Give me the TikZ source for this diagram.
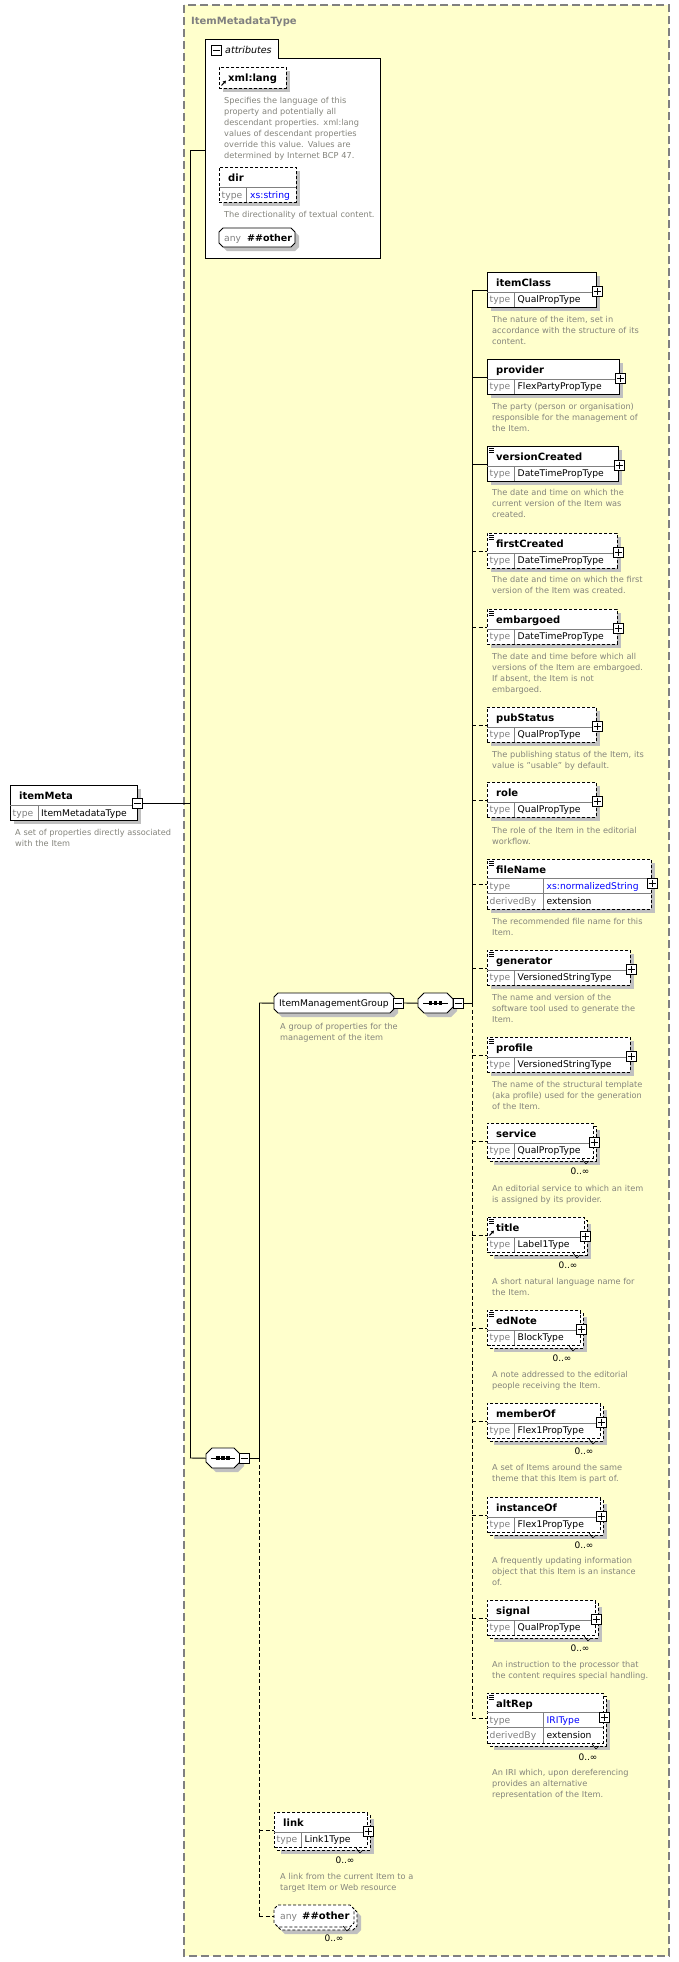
\documentclass[tikz,border=0pt]{standalone}
\usepackage{fontspec}
\setmainfont{DejaVu Sans}
\usetikzlibrary{arrows.meta}
\definecolor{ybg}{RGB}{255,255,204}
\definecolor{ybord}{RGB}{128,128,128}
\definecolor{shadowc}{RGB}{192,192,192}
\definecolor{descc}{RGB}{132,132,124}
\definecolor{divc}{RGB}{128,128,128}
\definecolor{bluet}{RGB}{0,0,255}
\tikzset{
 ln/.style={draw=black,line width=0.9pt},
 optd/.style={dash pattern=on 3pt off 2pt},
 reqd/.style={solid},
 cdash/.style={dash pattern=on 4pt off 2.5pt},
 elbox/.style={draw=black,fill=white,line width=0.9pt,inner sep=0pt,shape=rectangle},
 elframe/.style={draw=black,fill=white,line width=0.9pt},
 divl/.style={draw=divc,line width=0.8pt},
 shad/.style={fill=shadowc},
 occnotch/.style={draw=black,line width=0.6pt},
 pmbox/.style={draw=black,fill=white,line width=0.8pt,minimum size=10pt,inner sep=0pt,shape=rectangle},
 namet/.style={font=\fontsize{10}{12}\selectfont\bfseries,inner sep=0pt,anchor=base west},
 typel/.style={font=\fontsize{9.2}{11}\selectfont,text=divc,inner sep=0pt,anchor=base west},
 typet/.style={font=\fontsize{9.2}{11}\selectfont,inner sep=0pt,anchor=base west},
 desct/.style={font=\fontsize{8.2}{11}\selectfont,text=descc,text width=200pt,align=left,inner sep=0pt,anchor=base west},
 occt/.style={font=\fontsize{9}{11}\selectfont,inner sep=0pt,anchor=base},
 hid/.style={inner sep=0pt,shape=rectangle,anchor=north west},
}
\newcommand\plusat[3]{\node[pmbox] (#1) at (#2,#3) {};
  \draw[line width=0.8pt] (#1.center) +(-3.5,0) -- +(3.5,0) (#1.center) +(0,-3.5) -- +(0,3.5);}
\newcommand\minusat[3]{\node[pmbox] (#1) at (#2,#3) {};
  \draw[line width=0.8pt] (#1.center) +(-3.5,0) -- +(3.5,0);}
\newcommand\docicon[2]{\draw[line width=0.6pt] (#1+2,#2+2.5) -- ++(5,0) (#1+2,#2+4.5) -- ++(5,0) (#1+2,#2+6.5) -- ++(5,0);}
\newcommand\reficon[2]{\draw[line width=1pt,-{Triangle[length=3pt,width=3.2pt]}] (#1+2.5,#2+18.5) -- (#1+7,#2+13.5);}
\newcommand\octa[6]{\path[#6] (#1+#5,#2) -- (#3-#5,#2) -- (#3,#2+#5) -- (#3,#4-#5) -- (#3-#5,#4) -- (#1+#5,#4) -- (#1,#4-#5) -- (#1,#2+#5) -- cycle;}
\newcommand\desc[4]{\node[desct] (#1) at (#2,#3+3) {#4};}
\newcommand\occ[3]{\node[occt] (#1) at (#2,#3+3.5) {0..∞};}
% element: id, left, top, right, dash, name, type, multi, icon
\newcommand\el[9]{%
  \ifnum#8=1\relax
    \fill[shad] (#2+7,#3+7) rectangle (#4+7,#3+42);
    \draw[elframe,#5] (#2+3,#3+3) rectangle (#4+3,#3+38);
  \else
    \fill[shad] (#2+4,#3+4) rectangle (#4+4,#3+39);
  \fi
  \node[elbox,#5,minimum width=#4-#2,minimum height=35,anchor=north west] (#1) at (#2,#3) {};
  \ifnum#8=1\relax \draw[occnotch] (#4-11,#3+36) -- (#4-7,#3+41) -- (#4-4,#3+38);\fi
  \draw[divl] (#2,#3+20) -- (#4,#3+20) (#2+27,#3+20) -- (#2+27,#3+35);
  \node[namet] (#1n) at (#2+9,#3+14) {#6};
  \node[typel] (#1tl) at (#2+2.5,#3+30.5) {type};
  \node[typet] (#1t) at (#2+30.5,#3+30.5) {#7};
  \plusat{#1p}{#4+1}{#3+19}%
  \ifnum#9>0\relax \docicon{#2}{#3}\fi
  \ifnum#9>1\relax \reficon{#2}{#3}\fi
}
% derived element: id, left, top, right, name, type, multi
\newcommand\elx[7]{%
  \ifnum#7=1\relax
    \fill[shad] (#2+7,#3+7) rectangle (#4+7,#3+57);
    \draw[elframe,optd] (#2+3,#3+3) rectangle (#4+3,#3+53);
  \else
    \fill[shad] (#2+4,#3+4) rectangle (#4+4,#3+54);
  \fi
  \node[elbox,optd,minimum width=#4-#2,minimum height=50,anchor=north west] (#1) at (#2,#3) {};
  \ifnum#7=1\relax \draw[occnotch] (#4-11,#3+51) -- (#4-7,#3+56) -- (#4-4,#3+53);\fi
  \draw[divl] (#2,#3+19) -- (#4,#3+19) (#2,#3+34) -- (#4,#3+34) (#2+56,#3+19) -- (#2+56,#3+50);
  \node[namet] (#1n) at (#2+9,#3+14) {#5};
  \node[typel] (#1tl) at (#2+2.5,#3+30) {type};
  \node[typet,text=bluet] (#1t) at (#2+59.5,#3+30) {#6};
  \node[typel] (#1dl) at (#2+2.5,#3+45) {derivedBy};
  \node[typet] (#1d) at (#2+59.5,#3+45) {extension};
  \plusat{#1p}{#4+1}{#3+24.5}%
  \docicon{#2}{#3}%
}
\begin{document}
\begin{tikzpicture}[x=1pt,y=-1pt]
\useasboundingbox (0,0) rectangle (679,1962);
\fill[white] (0,0) rectangle (679,1962);
% type frame
\path[fill=ybg,draw=ybord,line width=1.3pt,dash pattern=on 8pt off 4pt] (184,5) rectangle (669,1956);
\node[namet,text=ybord] (ttl) at (191,24) {ItemMetadataType};

% itemMeta
\fill[shad] (14,789) rectangle (141,824);
\node[elbox,minimum width=127,minimum height=35,anchor=north west] (itemMeta) at (10,785) {};
\draw[divl] (10,805) -- (137,805) (38,805) -- (38,820);
\node[namet] (itemMetan) at (19,799) {itemMeta};
\node[typel] (itemMetatl) at (12.5,816) {type};
\node[typet] (itemMetat) at (41,816) {ItemMetadataType};
\minusat{imm}{137.5}{803}
\desc{itemMetad}{15}{832}{A set of properties directly associated\\with the Item}

% attributes
\path[fill=white,draw=black,line width=0.9pt] (278,58) -- (380,58) -- (380,258) -- (205,258) -- (205,39) -- (278,39) -- cycle;
\node[hid,minimum width=175,minimum height=200] (attrbox) at (205,58) {};
\minusat{attrm}{216}{50.5}
\node[namet,font=\fontsize{9.5}{11}\selectfont\itshape] (attrt) at (225,53.5) {attributes};

\fill[shad] (223,71) rectangle (290,92);
\node[elbox,optd,minimum width=67,minimum height=21,anchor=north west] (xmllang) at (219,67) {};
\node[namet] (xmllangn) at (228,81) {xml:lang};
\reficon{219}{67}
\desc{xmllangd}{224}{100}{Specifies the language of this\\property and potentially all\\descendant properties. xml:lang\\values of descendant properties\\override this value. Values are\\determined by Internet BCP 47.}

\fill[shad] (223,171) rectangle (300,206);
\node[elbox,optd,minimum width=77,minimum height=35,anchor=north west] (dir) at (219,167) {};
\draw[divl] (219,187) -- (296,187) (246,187) -- (246,202);
\node[namet] (dirn) at (228,181.5) {dir};
\node[typel] (dirtl) at (221.5,198.5) {type};
\node[typet,text=bluet] (dirt) at (250,198.5) {xs:string};
\desc{dird}{224}{214}{The directionality of textual content.}

\octa{223}{232}{299}{251}{4}{shad}
\octa{219}{228}{295}{247}{4}{fill=white,draw=black,line width=0.9pt}
\node[hid,minimum width=76,minimum height=19] (anyattr) at (219,228) {};
\node[typel] (anyattrl) at (224,241.5) {any};
\node[namet,font=\fontsize{9.5}{11}\selectfont\bfseries] (anyattrn) at (247,241.5) {\#\#other};

% outer sequence
\octa{210}{1452}{244}{1472}{6}{shad}
\octa{206}{1448}{240}{1468}{6}{fill=white,draw=black,line width=0.9pt}
\node[hid,minimum width=34,minimum height=20] (seq1) at (206,1448) {};
\draw[line width=0.9pt] (211,1458) -- (235,1458);
\foreach \cx in {218,223,228} \fill (\cx-1.6,1456.4) rectangle (\cx+1.6,1459.6);
\minusat{seq1m}{244}{1458}

% ItemManagementGroup
\octa{278}{997}{398}{1017}{4}{shad}
\octa{274}{993}{394}{1013}{4}{fill=white,draw=black,line width=0.9pt}
\node[hid,minimum width=120,minimum height=20] (img) at (274,993) {};
\node[typet] (imgt) at (279,1006.5) {ItemManagementGroup};
\minusat{imgm}{398.5}{1003}
\desc{imgd}{280}{1026}{A group of properties for the\\management of the item}

% inner sequence
\octa{422}{997}{457}{1017}{6}{shad}
\octa{418}{993}{453}{1013}{6}{fill=white,draw=black,line width=0.9pt}
\node[hid,minimum width=35,minimum height=20] (seq2) at (418,993) {};
\draw[line width=0.9pt] (423,1003) -- (448,1003);
\foreach \cx in {430.5,435.5,440.5} \fill (\cx-1.6,1001.4) rectangle (\cx+1.6,1004.6);
\minusat{seq2m}{458}{1003}

% inner elements
\el{itemClass}{487}{272}{596}{reqd}{itemClass}{QualPropType}{0}{0}
\desc{itemClassd}{492}{319}{The nature of the item, set in\\accordance with the structure of its\\content.}
\el{provider}{487}{359}{619}{reqd}{provider}{FlexPartyPropType}{0}{0}
\desc{providerd}{492}{406}{The party (person or organisation)\\responsible for the management of\\the Item.}
\el{versionCreated}{487}{446}{618}{reqd}{versionCreated}{DateTimePropType}{0}{1}
\desc{versionCreatedd}{492}{492}{The date and time on which the\\current version of the Item was\\created.}
\el{firstCreated}{487}{533}{617}{optd}{firstCreated}{DateTimePropType}{0}{1}
\desc{firstCreatedd}{492}{579}{The date and time on which the first\\version of the Item was created.}
\el{embargoed}{487}{609}{617}{optd}{embargoed}{DateTimePropType}{0}{1}
\desc{embargoedd}{492}{656}{The date and time before which all\\versions of the Item are embargoed.\\If absent, the Item is not\\embargoed.}
\el{pubStatus}{487}{707}{596}{optd}{pubStatus}{QualPropType}{0}{0}
\desc{pubStatusd}{492}{754}{The publishing status of the Item, its\\value is "usable" by default.}
\el{role}{487}{782}{596}{optd}{role}{QualPropType}{0}{0}
\desc{roled}{492}{830}{The role of the Item in the editorial\\workflow.}
\elx{fileName}{487}{859}{651}{fileName}{xs:normalizedString}{0}
\desc{fileNamed}{492}{921}{The recommended file name for this\\Item.}
\el{generator}{487}{950}{630}{optd}{generator}{VersionedStringType}{0}{1}
\desc{generatord}{492}{997}{The name and version of the\\software tool used to generate the\\Item.}
\el{profile}{487}{1037}{630}{optd}{profile}{VersionedStringType}{0}{1}
\desc{profiled}{492}{1084}{The name of the structural template\\(aka profile) used for the generation\\of the Item.}
\el{service}{487}{1123}{593}{optd}{service}{QualPropType}{1}{0}
\occ{serviceo}{580}{1171}
\desc{serviced}{492}{1188}{An editorial service to which an item\\is assigned by its provider.}
\el{title}{487}{1217}{584}{optd}{title}{Label1Type}{1}{2}
\occ{titleo}{568}{1265}
\desc{titled}{492}{1281}{A short natural language name for\\the Item.}
\el{edNote}{487}{1310}{580}{optd}{edNote}{BlockType}{1}{1}
\occ{edNoteo}{562}{1358}
\desc{edNoted}{492}{1374}{A note addressed to the editorial\\people receiving the Item.}
\el{memberOf}{487}{1403}{600}{optd}{memberOf}{Flex1PropType}{1}{0}
\occ{memberOfo}{584}{1451}
\desc{memberOfd}{492}{1467}{A set of Items around the same\\theme that this Item is part of.}
\el{instanceOf}{487}{1497}{600}{optd}{instanceOf}{Flex1PropType}{1}{0}
\occ{instanceOfo}{584}{1545}
\desc{instanceOfd}{492}{1560}{A frequently updating information\\object that this Item is an instance\\of.}
\el{signal}{487}{1600}{595}{optd}{signal}{QualPropType}{1}{0}
\occ{signalo}{580}{1648}
\desc{signald}{492}{1664}{An instruction to the processor that\\the content requires special handling.}
\elx{altRep}{487}{1693}{603}{altRep}{IRIType}{1}
\occ{altRepo}{588}{1757}
\desc{altRepd}{492}{1772}{An IRI which, upon dereferencing\\provides an alternative\\representation of the Item.}

% outer elements
\el{link}{274}{1812}{367}{optd}{link}{Link1Type}{1}{0}
\occ{linko}{345}{1860}
\desc{linkd}{280}{1876}{A link from the current Item to a\\target Item or Web resource}

\octa{281}{1912}{361}{1934}{4}{shad}
\octa{277}{1908}{357}{1930}{4}{fill=white,draw=black,line width=0.9pt,optd}
\octa{274}{1905}{354}{1927}{4}{fill=white,draw=black,line width=0.9pt,optd}
\node[hid,minimum width=80,minimum height=22] (anyo) at (274,1905) {};
\draw[occnotch] (343,1926) -- (347,1931) -- (350,1928);
\node[typel] (anyol) at (280,1919.5) {any};
\node[namet] (anyon) at (302,1919.5) {\#\#other};
\occ{anyoo}{334}{1938}

% connectors
\coordinate (b1t) at (190,150);
\coordinate (b1b) at (190,1458);
\coordinate (b2t) at (259,1003);
\coordinate (b2m) at (259,1458);
\coordinate (b3m) at (472,1003);
\draw[ln] (imm.east) -- (imm.east -| b1t);
\draw[ln] (b1t) -- (b1b);
\draw[ln] (b1t) -- (b1t -| attrbox.west);
\draw[ln] (b1b) -- (seq1.west);
\draw[ln] (seq1m.east) -- (b2m);
\draw[ln] (b2t) -- (b2m);
\draw[ln,cdash] (b2m) -- (b2m |- anyo.west);
\draw[ln] (b2t) -- (img.west);
\draw[ln,cdash] (link.west -| b2t) -- (link.west);
\draw[ln,cdash] (anyo.west -| b2t) -- (anyo.west);
\draw[ln] (imgm.east) -- (seq2.west);
\draw[ln] (seq2m.east) -- (b3m);
\draw[ln] (b3m |- itemClass.west) -- (b3m);
\draw[ln,cdash] (b3m) -- (b3m |- altRep.west);
\foreach \n in {itemClass,provider,versionCreated} \draw[ln] (\n.west -| b3m) -- (\n.west);
\foreach \n in {firstCreated,embargoed,pubStatus,role,fileName,generator,profile,service,title,edNote,memberOf,instanceOf,signal,altRep} \draw[ln,cdash] (\n.west -| b3m) -- (\n.west);
\end{tikzpicture}
\end{document}
